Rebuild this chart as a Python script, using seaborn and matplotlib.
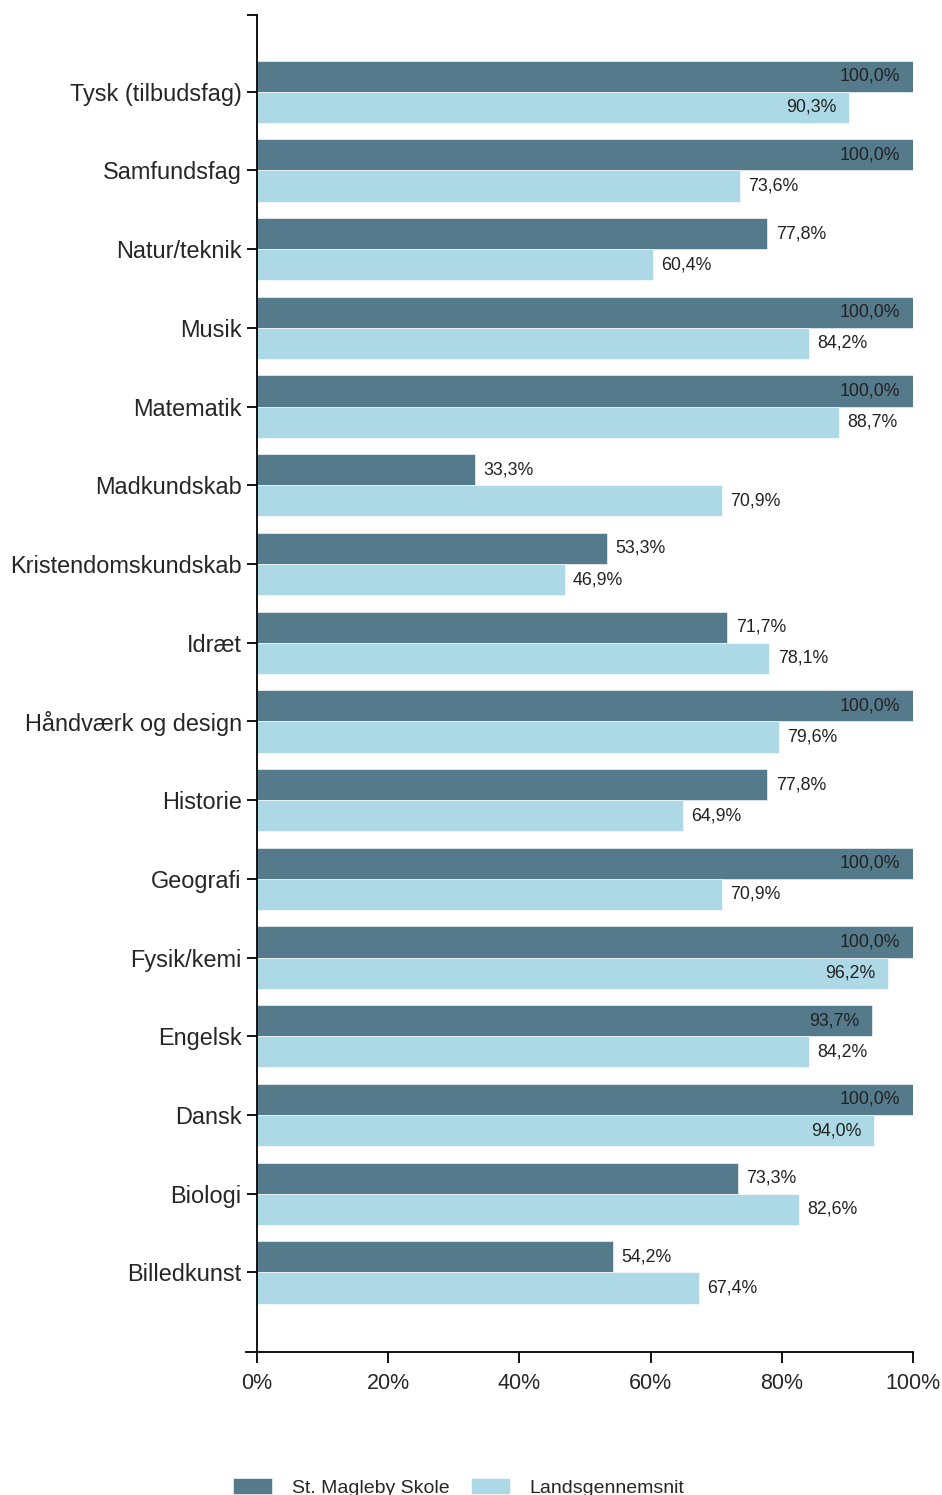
import pandas as pd
import seaborn as sns
import matplotlib.pyplot as plt
from matplotlib.ticker import FuncFormatter

# ==========================================
# DATA
# ==========================================
SUBJECTS = [
    "Tysk (tilbudsfag)", "Samfundsfag", "Natur/teknik", "Musik", "Matematik",
    "Madkundskab", "Kristendomskundskab", "Idræt", "Håndværk og design",
    "Historie", "Geografi", "Fysik/kemi", "Engelsk", "Dansk", "Biologi",
    "Billedkunst",
]
SCHOOL = [100.0, 100.0, 77.8, 100.0, 100.0, 33.3, 53.3, 71.7, 100.0,
          77.8, 100.0, 100.0, 93.7, 100.0, 73.3, 54.2]
NATIONAL = [90.3, 73.6, 60.4, 84.2, 88.7, 70.9, 46.9, 78.1, 79.6,
            64.9, 70.9, 96.2, 84.2, 94.0, 82.6, 67.4]
SERIES = ["St. Magleby Skole", "Landsgennemsnit"]
COLORS = ["#557a8c", "#add8e6"]
X_TICKS = [0, 20, 40, 60, 80, 100]

OUTPUT_IMAGE = "out.png"
# ==========================================


def main():
    df = pd.DataFrame({
        "fag": SUBJECTS * 2,
        "serie": [SERIES[0]] * len(SUBJECTS) + [SERIES[1]] * len(SUBJECTS),
        "pct": SCHOOL + NATIONAL,
    })

    sns.set_theme(style="white")
    plt.rcParams["font.family"] = ["Liberation Sans", "DejaVu Sans"]

    fig = plt.figure(figsize=(9.42, 14.95), dpi=100)
    ax = fig.add_axes([0.2728, 0.0957, 0.6964, 0.8943])

    sns.barplot(data=df, y="fag", x="pct", hue="serie", order=SUBJECTS,
                hue_order=SERIES, palette=COLORS, orient="h", width=0.79,
                saturation=1, edgecolor="white", linewidth=0.4, ax=ax,
                legend=True)

    # value labels: inside for near-full bars, outside otherwise
    for container in ax.containers:
        for bar in container:
            v = bar.get_width()
            y = bar.get_y() + bar.get_height() / 2
            txt = f"{v:.1f}".replace(".", ",") + "%"
            if v >= 90:
                ax.annotate(txt, (v, y), xytext=(-9, 0),
                            textcoords="offset points", ha="right",
                            va="center", fontsize=12.8, color="#222222")
            else:
                ax.annotate(txt, (v, y), xytext=(6, 0),
                            textcoords="offset points", ha="left",
                            va="center", fontsize=12.8, color="#222222")

    ax.set_xlim(0, 100)
    ax.set_ylim(len(SUBJECTS) - 1 + 1.01, -0.975)
    ax.set_xticks(X_TICKS)
    ax.xaxis.set_major_formatter(FuncFormatter(lambda v, p: f"{v:.0f}%"))
    ax.set_yticks([-0.975], minor=True)

    ax.set_xlabel("")
    ax.set_ylabel("")
    for s in ["top", "right"]:
        ax.spines[s].set_visible(False)
    for s in ["left", "bottom"]:
        ax.spines[s].set_color("black")
        ax.spines[s].set_linewidth(1.3)
    ax.spines["bottom"].set_bounds(-1.6, 100)

    ax.tick_params(axis="x", which="major", bottom=True, length=8,
                   width=1.3, color="black", labelsize=15.5, pad=7)
    ax.tick_params(axis="y", which="both", left=True, length=7,
                   width=1.3, color="black", labelsize=16.9, pad=4)

    ax.get_legend().remove()
    handles, labels = ax.get_legend_handles_labels()
    fig.legend(handles, labels, loc="center", bbox_to_anchor=(0.487, 0.005),
               ncol=2, frameon=False, fontsize=14, handlelength=2.0,
               handleheight=0.9, columnspacing=1.1, handletextpad=1.0)

    fig.savefig(OUTPUT_IMAGE, dpi=100)


if __name__ == "__main__":
    main()
